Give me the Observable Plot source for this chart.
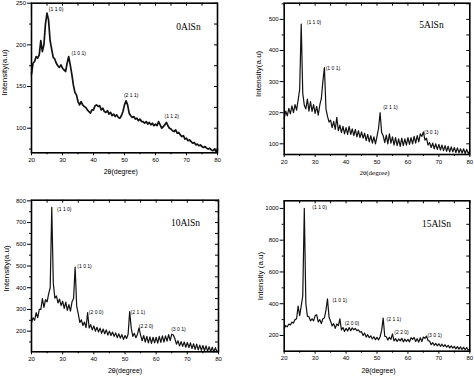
<!DOCTYPE html>
<html><head><meta charset="utf-8">
<script src="https://cdn.jsdelivr.net/npm/d3@7"></script>
<script src="https://cdn.jsdelivr.net/npm/@observablehq/plot@0.6"></script>
<style>
body{margin:0;background:#fff}
#fig{position:relative;width:474px;height:376px;overflow:hidden;background:#fff}
.panel{position:absolute;width:237px;height:188px}
</style></head><body><div id="fig"></div>
<script>
// 2θ grid (degrees)
const theta = [
20,20.5,21,21.5,22,22.5,23,23.5,24,24.5,
25,25.5,26,26.5,27,27.5,28,28.5,29,29.5,
30,30.5,31,31.5,32,32.5,33,33.5,34,34.5,
35,35.5,36,36.5,37,37.5,38,38.5,39,39.5,
40,40.5,41,41.5,42,42.5,43,43.5,44,44.5,
45,45.5,46,46.5,47,47.5,48,48.5,49,49.5,
50,50.5,51,51.5,52,52.5,53,53.5,54,54.5,
55,55.5,56,56.5,57,57.5,58,58.5,59,59.5,
60,60.5,61,61.5,62,62.5,63,63.5,64,64.5,
65,65.5,66,66.5,67,67.5,68,68.5,69,69.5,
70,70.5,71,71.5,72,72.5,73,73.5,74,74.5,
75,75.5,76,76.5,77,77.5,78,78.5,79,79.5,
80];

const int0AlSn = [
165,178,180,186,184,188,205,192,200,225,
238,230,205,195,185,183,178,175,173,176,
172,170,168,178,186,176,165,152,143,140,
132,128,132,128,126,125,122,120,118,122,
122,127,128,126,127,122,124,120,119,121,
117,119,115,117,114,116,113,112,115,120,
128,133,128,118,115,113,114,111,112,109,
111,108,108,106,108,105,107,104,106,103,
105,103,108,104,100,102,104,107,103,100,
99,97,96,98,94,95,92,90,91,87,
88,85,86,84,82,83,80,81,79,80,
78,77,78,76,75,76,74,73,75,72,
74];

const int5AlSn = [
180,205,190,214,196,222,200,226,208,240,
275,485,262,224,212,244,205,236,204,226,
198,220,192,224,245,300,345,212,188,170,
176,152,172,146,185,142,160,136,156,132,
152,130,156,130,148,126,146,122,142,120,
138,118,134,110,130,106,126,102,122,100,
124,150,200,136,126,104,128,100,132,102,
122,96,120,94,116,92,118,94,116,96,
120,98,120,100,124,102,126,106,132,124,
138,112,118,96,104,88,102,84,100,82,
98,80,96,78,94,76,92,74,90,74,
88,72,87,71,84,70,84,69,82,69,
76];

const int10AlSn = [
240,262,250,285,262,300,300,350,310,345,
335,372,400,770,420,352,362,330,348,318,
338,305,334,296,322,292,335,350,495,315,
280,240,252,226,242,216,285,215,230,206,
224,200,218,196,214,190,210,188,206,182,
200,180,196,176,192,170,188,168,184,162,
180,166,186,290,214,176,190,170,186,215,
182,156,180,150,176,146,174,144,172,146,
172,145,176,148,178,150,178,154,184,156,
186,182,166,140,156,132,152,130,150,126,
148,124,146,120,142,116,140,114,136,112,
134,110,132,108,128,106,126,104,124,104,
112];

const int15AlSn = [
245,262,255,272,266,284,278,300,305,385,
325,385,450,1000,400,322,318,292,305,292,
325,330,286,300,275,305,310,360,430,315,
290,260,275,245,272,262,305,235,250,225,
245,228,250,230,248,236,245,230,236,220,
224,200,215,190,205,186,198,178,192,174,
188,172,192,232,310,195,192,172,188,176,
210,166,180,162,178,166,182,160,177,162,
176,160,186,176,188,162,180,158,186,162,
190,182,196,168,165,142,155,138,150,135,
148,132,145,130,142,126,138,122,135,120,
132,116,130,114,128,112,126,110,124,108,
112];

const sampleNames = ["0AlSn", "5AlSn", "10AlSn", "15AlSn"];
const xLabelText = "2θ(degree)";
const yLabelTexts = ["Intensity(a.u)", "Intensity(a.u)", "Intensity(a.u)", "Intensity (a.u)"];
const xMajor = [20, 30, 40, 50, 60, 70, 80];
const xMinor = [25, 35, 45, 55, 65, 75];

const yMajor0 = [100, 150, 200, 250], yMinor0 = [75, 125, 175, 225];
const yMajor5 = [100, 200, 300, 400, 500], yMinor5 = [150, 250, 350, 450, 550];
const yMajor10 = [200, 300, 400, 500, 600, 700, 800], yMinor10 = [150, 250, 350, 450, 550, 650, 750];
const yMajor15 = [200, 400, 600, 800, 1000], yMinor15 = [300, 500, 700, 900];

const hkl0 = ["(1 1 0)", "(1 0 1)", "(2 1 1)", "(1 1 2)"];
const hklTheta0 = [25.6, 32.9, 49.8, 62.9];
const hklInt0 = [242, 190, 139, 114];

const hkl5 = ["(1 1 0)", "(1 0 1)", "(2 1 1)", "(3 0 1)"];
const hklTheta5 = [27.3, 33.4, 52.0, 65.2];
const hklInt5 = [490, 343, 216, 136];

const hkl10 = ["(1 1 0)", "(1 0 1)", "(2 0 0)", "(2 1 1)", "(2 2 0)", "(3 0 1)"];
const hklTheta10 = [28.2, 34.7, 38.4, 51.8, 54.4, 64.8];
const hklInt10 = [761, 498, 286, 286, 223, 208];

const hkl15 = ["(1 1 0)", "(1 0 1)", "(2 0 0)", "(2 1 1)", "(2 2 0)", "(3 0 1)"];
const hklTheta15 = [29.1, 35.6, 39.6, 53.1, 55.6, 66.3];
const hklInt15 = [1006, 423, 278, 303, 217, 200];

const SANS = "'Liberation Sans', Arial, Helvetica, sans-serif";
const SERIF = "'Liberation Serif', 'Times New Roman', serif";

function makePanel(cfg) {
  const W = 237, H = 188;
  const {left, top, mL, mR, mT, mB} = cfg;
  const innerW = W - mL - mR, innerH = H - mT - mB;
  const data = theta.map((t, i) => ({t, v: cfg.values[i]}));
  const labels = cfg.hkl.map((s, i) => ({s, t: cfg.hklTheta[i], v: cfg.hklInt[i]}));
  const plot = Plot.plot({
    width: W, height: H,
    marginLeft: mL, marginRight: mR, marginTop: mT, marginBottom: mB,
    x: {domain: [20, 80], label: null},
    y: {domain: cfg.yDomain, label: null},
    style: {fontFamily: SANS, fontSize: "6px", background: "white", color: "black", overflow: "visible"},
    marks: [
      Plot.line(data, {x: "t", y: "v", stroke: "#111", strokeWidth: cfg.lineWidth}),
      Plot.axisX(xMajor, {tickSize: 3, tickPadding: 2, label: null, fontSize: 6, tickFormat: d3.format("d")}),
      Plot.axisX(xMinor, {tickSize: 2, tickFormat: () => "", label: null}),
      Plot.axisY(cfg.yMajor, {tickSize: 4, tickPadding: 1.5, label: null, fontSize: 6, tickFormat: d3.format("d")}),
      Plot.axisY(cfg.yMinor, {tickSize: 2, tickFormat: () => "", label: null}),
      Plot.tickX([...xMajor, ...xMinor], {x: d => d, insetBottom: innerH - 3, stroke: "black"}),
      Plot.tickY([...cfg.yMajor, ...cfg.yMinor], {y: d => d, insetLeft: innerW - 3, stroke: "black"}),
      Plot.frame({stroke: "black", strokeWidth: 1.6}),
      Plot.text(labels, {x: "t", y: "v", text: "s", textAnchor: "start", lineAnchor: "middle", fontSize: 5}),
      Plot.text([cfg.name], {frameAnchor: "top-right", textAnchor: "middle", lineAnchor: "middle",
        dx: cfg.titleDx, dy: cfg.titleDy, fontFamily: SERIF, fontSize: 9.5}),
      Plot.text([xLabelText], {frameAnchor: "bottom", textAnchor: "middle", lineAnchor: "middle",
        dx: cfg.xLabDx, dy: cfg.xLabDy, fontSize: 7, fontFamily: cfg.xLabFont}),
      Plot.text([cfg.yLabel], {frameAnchor: "left", textAnchor: "middle", lineAnchor: "middle", rotate: -90,
        dx: cfg.yLabDx, dy: cfg.yLabDy, fontSize: 8})
    ]
  });
  const div = document.createElement("div");
  div.className = "panel";
  div.style.left = left + "px";
  div.style.top = top + "px";
  div.appendChild(plot);
  document.getElementById("fig").appendChild(div);
}

makePanel({left: 0, top: 0, mL: 31, mR: 20, mT: 2.7, mB: 35.7, yDomain: [70.5, 250],
  yMajor: yMajor0, yMinor: yMinor0, values: int0AlSn, name: sampleNames[0],
  hkl: hkl0, hklTheta: hklTheta0, hklInt: hklInt0, lineWidth: 1.7,
  titleDx: -29, titleDy: 23.3, xLabDx: -3.7, xLabDy: 18.7, xLabFont: SANS,
  yLabel: yLabelTexts[0], yLabDx: -27, yLabDy: -5.5});

makePanel({left: 237, top: 0, mL: 46.7, mR: 4.7, mT: 2.7, mB: 34, yDomain: [65.6, 552],
  yMajor: yMajor5, yMinor: yMinor5, values: int5AlSn, name: sampleNames[1],
  hkl: hkl5, hklTheta: hklTheta5, hklInt: hklInt5, lineWidth: 1.2,
  titleDx: -38.3, titleDy: 21.3, xLabDx: -2.5, xLabDy: 18.7, xLabFont: SERIF,
  yLabel: yLabelTexts[1], yLabDx: -26, yLabDy: -5});

makePanel({left: 0, top: 188, mL: 31, mR: 19, mT: 11.7, mB: 24.7, yDomain: [105, 803],
  yMajor: yMajor10, yMinor: yMinor10, values: int10AlSn, name: sampleNames[2],
  hkl: hkl10, hklTheta: hklTheta10, hklInt: hklInt10, lineWidth: 1.2,
  titleDx: -33, titleDy: 22.6, xLabDx: 0, xLabDy: 19.4, xLabFont: SANS,
  yLabel: yLabelTexts[2], yLabDx: -25, yLabDy: -7.5});

makePanel({left: 237, top: 188, mL: 46.7, mR: 4.7, mT: 12.3, mB: 25.3, yDomain: [101, 1048],
  yMajor: yMajor15, yMinor: yMinor15, values: int15AlSn, name: sampleNames[3],
  hkl: hkl15, hklTheta: hklTheta15, hklInt: hklInt15, lineWidth: 1.2,
  titleDx: -33.3, titleDy: 23.4, xLabDx: 1.5, xLabDy: 20, xLabFont: SANS,
  yLabel: yLabelTexts[3], yLabDx: -24, yLabDy: 0});
</script>
</body></html>
